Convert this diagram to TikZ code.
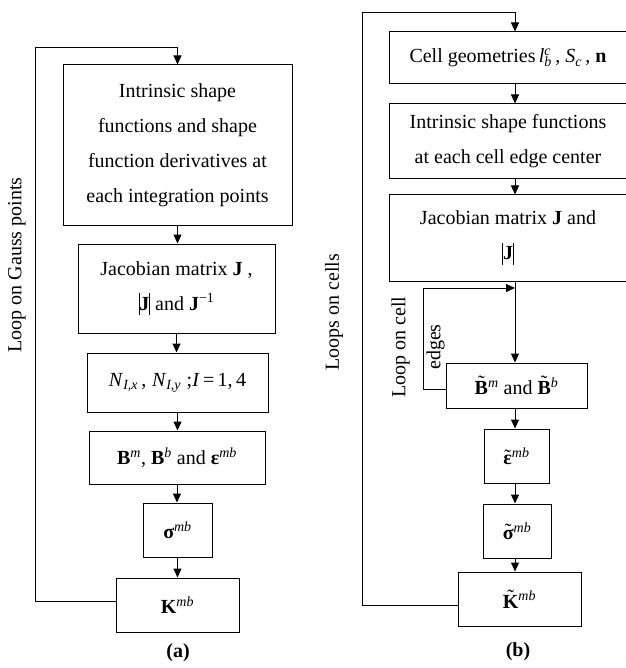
\documentclass[tikz,border=0pt]{standalone}
\usepackage{fontspec}
\setmainfont{Liberation Serif}
\usetikzlibrary{arrows.meta}
\newcommand\su[1]{\textsuperscript{\textit{#1}}}
\newcommand\sbi[1]{\textsubscript{\textit{#1}}}
\newcommand\vbar{\raisebox{-5pt}{\rule{0.8pt}{22pt}}}
\newcommand\tld[1]{\leavevmode\setbox0=\hbox{\textbf{#1}}%
  \makebox[0pt][l]{\makebox[\wd0]{\raisebox{\dimexpr\ht0-1ex+1pt\relax}{\char"02DC}}}\box0}
\tikzset{
  box/.style={draw, line width=1pt, inner sep=0pt, align=center,
    font=\fontsize{20}{35}\selectfont},
  lbl/.style={inner sep=0pt, align=center, font=\fontsize{20}{35}\selectfont},
  arr/.style={line width=1pt, -{Triangle[length=9pt,width=8pt]}},
  ln/.style={line width=1pt}
}
\begin{document}
\begin{tikzpicture}[x=1pt,y=-1pt]
\useasboundingbox (0,0) rectangle (625,668);
% ---------- (a)
\node[box, minimum width=229, minimum height=160] (a1) at (177.5,145)
  {Intrinsic shape\\functions and shape\\function derivatives at\\each integration points};
\node[box, minimum width=197, minimum height=89] (a2) at (176.5,288.5)
  {Jacobian matrix \textbf{J} ,\\\vbar\textbf{J}\vbar{} and \textbf{J}\textsuperscript{\textminus1}};
\node[box, minimum width=181, minimum height=59] (a3) at (177.5,382.5)
  {\textit{N}\sbi{I,x}\,,\;\textit{N}\sbi{I,y}\;;\textit{I}\,=\,1,\,4};
\node[box, minimum width=176, minimum height=53] (a4) at (177,457.5)
  {\textbf{B}\su{m}, \textbf{B}\su{b} and \textbf{ε}\su{mb}};
\node[box, minimum width=69, minimum height=54] (a5) at (177.5,530)
  {\textbf{σ}\su{mb}};
\node[box, minimum width=123, minimum height=54] (a6) at (177.5,605)
  {\textbf{K}\su{mb}};
\coordinate (la) at (35,48);
\draw[arr] (a1.south) -- (a1.south |- a2.north);
\draw[arr] (a2.south) -- (a2.south |- a3.north);
\draw[arr] (a3.south) -- (a3.south |- a4.north);
\draw[arr] (a4.south) -- (a4.south |- a5.north);
\draw[arr] (a5.south) -- (a5.south |- a6.north);
\draw[arr] ([yshift=4pt]a6.west) -| (la) -| (a1.north);
\node[lbl, rotate=90] (lga) at (17,265) {Loop on Gauss points};
\node[lbl, font=\fontsize{20}{24}\selectfont\bfseries] (capa) at (178,653) {(a)};
% ---------- (b)
\node[box, minimum width=238, minimum height=52] (b1) at (508,58)
  {Cell geometries\,\textit{l}\rlap{\su{c}}\sbi{b}\,, \textit{S}\sbi{c}\,, \textbf{n}};
\node[box, minimum width=238, minimum height=75] (b2) at (508,141.5)
  {Intrinsic shape functions\\at each cell edge center};
\node[box, minimum width=238, minimum height=86] (b3) at (508,238)
  {Jacobian matrix \textbf{J} and\\\vbar\textbf{J}\vbar};
\node[box, minimum width=141, minimum height=45] (b4) at (516.5,385.5)
  {\tld{B}\su{m} and \tld{B}\su{b}};
\node[box, minimum width=65, minimum height=54] (b5) at (516.5,456)
  {\tld{ε}\su{mb}};
\node[box, minimum width=68, minimum height=54] (b6) at (517,531)
  {\tld{σ}\su{mb}};
\node[box, minimum width=123, minimum height=54] (b7) at (519.5,599)
  {\tld{K}\su{mb}};
\coordinate (ax) at (515,0);
\coordinate (lb) at (362,13);
\coordinate (il) at (423,288);
\coordinate (ij) at (515,288);
\draw[arr] (b1.south -| ax) -- (b2.north -| ax);
\draw[arr] (b2.south -| ax) -- (b3.north -| ax);
\draw[arr] (b3.south -| ax) -- (b4.north -| ax);
\draw[arr] (b4.south -| ax) -- (b5.north -| ax);
\draw[arr] (b5.south -| ax) -- (b6.north -| ax);
\draw[arr] (b6.south -| ax) -- (b7.north -| ax);
\draw[arr] ([yshift=-6pt]b7.west) -| (lb) -| (b1.north -| ax);
\draw[arr] ([yshift=-3.5pt]b4.west) -| (il) -- (ij);
\node[lbl, rotate=90] (lgb) at (334,312) {Loops on cells};
\node[lbl, rotate=90] (lgc) at (418,347) {Loop on cell\\edges};
\node[lbl, font=\fontsize{20}{24}\selectfont\bfseries] (capb) at (518,652) {(b)};
\end{tikzpicture}
\end{document}
